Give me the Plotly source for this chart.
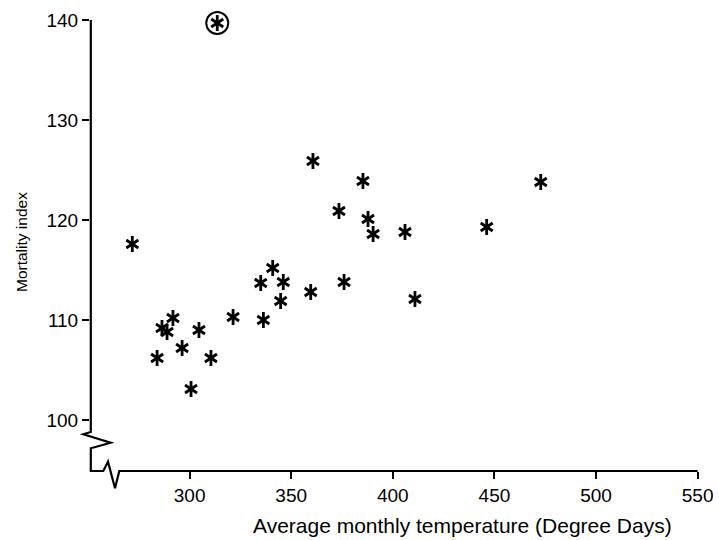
import plotly.graph_objects as go

# ---- data ----
temperature = [271.8, 284.0, 286.4, 288.9, 291.8, 304.6, 296.3, 310.5, 300.7, 321.4,
               336.3, 335.0, 340.9, 346.1, 344.8, 359.6, 376.0, 360.7, 373.5, 385.3,
               387.8, 390.3, 406.0, 410.9, 446.2, 472.8]
mortality = [117.6, 106.2, 109.2, 108.8, 110.2, 109.0, 107.2, 106.2, 103.1, 110.3,
             110.0, 113.7, 115.2, 113.8, 111.9, 112.8, 113.8, 125.9, 120.9, 123.9,
             120.1, 118.6, 118.8, 112.1, 119.3, 123.8]
outlier_temperature = [313.6]
outlier_mortality = [139.7]

x_ticks = [300, 350, 400, 450, 500, 550]
y_ticks = [100, 110, 120, 130, 140]

# ---- layout geometry (pixels) ----
W, H = 719, 540
L, R, T, B = 90, 710, 5, 471
X_RANGE = [250.98, 556.1]
Y_RANGE = [94.9, 141.5]
FONT = "Liberation Sans, Arial, Helvetica, sans-serif"


def px(xp):
    return (xp - L) / (R - L)


def py(yp):
    return (B - yp) / (B - T)


def path(points):
    return "M " + " L ".join(f"{px(a):.5f},{py(b):.5f}" for a, b in points)


fig = go.Figure()
for sym in ["y-up-open", "y-down-open"]:
    fig.add_trace(go.Scatter(
        x=temperature + outlier_temperature, y=mortality + outlier_mortality,
        mode="markers",
        marker=dict(symbol=sym, size=10, color="black",
                    line=dict(color="black", width=2.8)),
        hoverinfo="x+y", showlegend=False, cliponaxis=False))

fig.add_trace(go.Scatter(
    x=outlier_temperature, y=outlier_mortality, mode="markers",
    marker=dict(symbol="circle-open", size=22, color="black",
                line=dict(color="black", width=2)),
    hoverinfo="skip", showlegend=False, cliponaxis=False))

# y axis line with break zigzag, then x axis line with break
axis_pts = [(90.8, 20), (90.8, 432), (83.3, 434.3), (110.7, 442.7), (90.8, 448.3),
            (90.8, 471), (103.3, 471), (108, 461.7), (115, 488.3), (119.3, 471),
            (697.6, 471)]
fig.add_shape(type="path", xref="paper", yref="paper", path=path(axis_pts),
              line=dict(color="black", width=2.2), layer="above")

fig.update_layout(
    width=W, height=H,
    margin=dict(l=L, r=W - R, t=T, b=H - B, pad=0),
    paper_bgcolor="white", plot_bgcolor="white",
    font=dict(family=FONT, color="black", size=19),
    xaxis=dict(range=X_RANGE, tickvals=x_ticks, ticktext=[str(v) for v in x_ticks],
               showgrid=False, zeroline=False, showline=False,
               ticks="outside", ticklen=7, tickwidth=2, tickcolor="black",
               tickfont=dict(size=19, family=FONT), fixedrange=True),
    yaxis=dict(range=Y_RANGE, tickvals=y_ticks, ticktext=[str(v) for v in y_ticks],
               showgrid=False, zeroline=False, showline=False,
               ticks="outside", ticklen=7, tickwidth=2, tickcolor="black",
               tickfont=dict(size=19, family=FONT), fixedrange=True),
    annotations=[
        dict(text="Average monthly temperature (Degree Days)", xref="paper", yref="paper",
             x=px(462), y=py(525), xanchor="center", yanchor="middle", showarrow=False,
             font=dict(size=21, family=FONT)),
        dict(text="Mortality index", xref="paper", yref="paper",
             x=px(22), y=py(242), xanchor="center", yanchor="middle", showarrow=False,
             textangle=-90, font=dict(size=15.5, family=FONT)),
    ],
)

fig.write_html("out.html")
